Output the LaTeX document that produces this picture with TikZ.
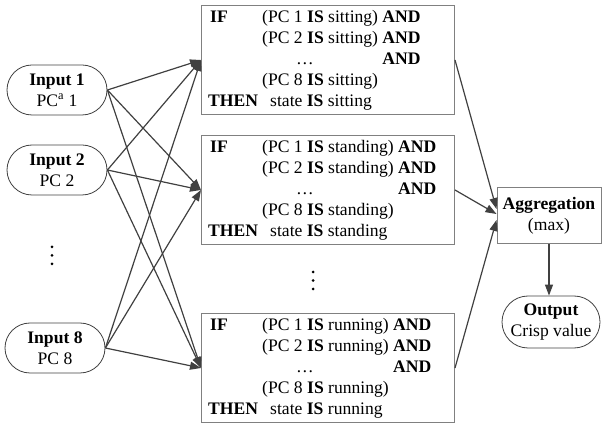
\documentclass[tikz,border=0pt]{standalone}
\usepackage{fontspec}
\setmainfont{Liberation Serif}
\usetikzlibrary{arrows.meta,shapes.misc}

\tikzset{
  inbox/.style={rounded rectangle, draw=black!75, line width=0.8pt, minimum width=100pt, minimum height=50pt, inner sep=0pt, align=center},
  rulebox/.style={draw=black!50, line width=1pt, minimum width=253pt, minimum height=109pt, inner sep=0pt, anchor=north west},
  aggbox/.style={draw=black!50, line width=1pt, minimum width=104pt, minimum height=56pt, inner sep=0pt, align=center},
  rowtext/.style={anchor=base west, inner sep=0pt},
  link/.style={draw=black!75, line width=1.2pt, -{Triangle[length=11pt,width=8pt]}},
}

\begin{document}
\begin{tikzpicture}[x=1pt, y=-1pt, font=\fontsize{17.6}{21}\selectfont]
    \useasboundingbox (0,0) rectangle (603,430);

    % inputs
    \node[inbox] (i1) at (57,90) {\textbf{Input 1}\\PC\textsuperscript{a} 1};
    \node[inbox] (i2) at (57,170) {\textbf{Input 2}\\PC 2};
    \node[inbox] (i8) at (55,348) {\textbf{Input 8}\\PC 8};
    \foreach \y in {247,255.5,264}
      \fill (52,\y) circle (1.5);

    % rule base
    \foreach \st/\ty/\nm in {sitting/5/r1, standing/135/r2, running/313/r3} {
      \node[rulebox] (\nm) at (201,\ty) {};
      \node[rowtext] at (210,\ty+17.5) {\textbf{IF}};
      \node[rowtext] (\nm a) at (262,\ty+17.5) {(PC 1 \textbf{IS} \st) \textbf{AND}};
      \node[rowtext] at (262,\ty+38.5) {(PC 2 \textbf{IS} \st) \textbf{AND}};
      \node[anchor=base, inner sep=0pt] at (305,\ty+59.5) {…};
      \node[anchor=base east, inner sep=0pt] at (\nm a.east |- 0,\ty+59.5) {\textbf{AND}};
      \node[rowtext] at (262,\ty+80.5) {(PC 8 \textbf{IS} \st)};
      \node[rowtext] at (208,\ty+101.5) {\textbf{THEN}};
      \node[rowtext] at (270,\ty+101.5) {state \textbf{IS} \st};
    }
    \foreach \y in {272,280.5,289}
      \fill (313,\y) circle (1.5);

    % aggregation and output
    \node[aggbox] (agg) at (549,216) {\textbf{Aggregation}\\(max)};
    \node[inbox, minimum width=98pt, minimum height=52pt] (out) at (551,322) {\textbf{Output}\\Crisp value};

    % connections
    \foreach \i in {i1,i2,i8}
      \foreach \r in {r1,r2,r3}
        \draw[link] (\i.east) -- (\r.west);
    \draw[link] (r1.east) -- ([yshift=7pt]agg.west);
    \draw[link] (r2.east) -- ([yshift=2pt]agg.west);
    \draw[link] (r3.east) -- ([yshift=-4pt]agg.west);
    \draw[link] (agg.south) -- (agg.south |- out.north);
\end{tikzpicture}
\end{document}
